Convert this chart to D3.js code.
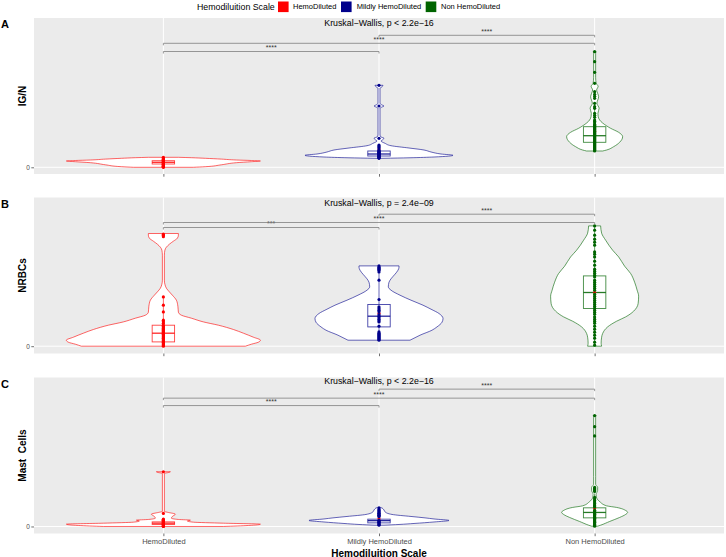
<!DOCTYPE html>
<html>
<head>
<meta charset="utf-8">
<script src="https://cdn.jsdelivr.net/npm/d3@7"></script>
<style>
  body { margin: 0; background: #fff; }
  text { font-family: "Liberation Sans", Arial, sans-serif; }
</style>
</head>
<body>
<div id="chart"></div>
<script>
// categories and colours
const groups = ["HemoDiluted", "Mildly HemoDiluted", "Non HemoDiluted"];
const groupColors = ["#FF0000", "#00008B", "#006400"];

const panelLetters = ["A", "B", "C"];
const yTitles = ["IG/N", "NRBCs", "Mast  Cells"];
const kruskalLabels = ["Kruskal\u2212Wallis, p < 2.2e\u221216", "Kruskal\u2212Wallis, p = 2.4e\u221209", "Kruskal\u2212Wallis, p < 2.2e\u221216"];
const kruskalY = [14.33, 14.27, 14.4];
const yDomains = [[-0.67, 14.93], [-0.73, 14.87], [-0.7, 14.86]];

// pairwise comparisons: H-M, H-N, M-N
const pairs = [[0, 1], [0, 2], [1, 2]];
const sigLabels = [["****", "****", "****"], ["***", "****", "****"], ["****", "****", "****"]];
const bracketY = [[11.58, 12.4, 13.2], [11.87, 12.37, 13.2], [12.06, 12.8, 13.7]];

// violin outlines: [value, half width]
const violinA = [
  [[0, 30], [0.06, 42], [0.25, 58], [0.46, 73], [0.56, 88], [0.63, 97], [0.68, 88], [0.73, 73], [0.82, 58], [0.9, 42], [0.96, 28], [1.0, 15]],
  [[0.9, 5], [0.95, 30], [1.03, 55], [1.2, 74], [1.33, 62], [1.53, 52], [1.73, 45], [1.93, 30], [2.16, 12], [2.4, 6], [2.63, 2], [2.78, 4], [2.9, 5], [3.03, 2], [3.23, 1], [5.9, 1], [6.03, 3], [6.13, 5], [6.23, 3], [6.4, 1], [7.9, 1], [8.05, 3], [8.2, 4]],
  [[1.63, 8], [1.73, 12], [2.06, 19], [2.5, 25], [3.06, 28], [3.5, 24], [3.9, 16], [4.16, 11.7], [4.73, 5], [5.1, 3.5], [5.4, 3.3], [5.9, 4.5], [6.4, 2.3], [7.06, 4], [7.4, 3], [7.73, 2], [8.1, 3.5], [8.4, 1.5], [9, 1], [11.4, 1], [11.56, 1.5]]
];
const violinB = [
  [[0, 82], [0.2, 88], [0.4, 95], [0.6, 97], [0.9, 90], [1.3, 80], [1.67, 70], [2.1, 55], [2.43, 40], [2.8, 28], [3.1, 18], [3.4, 15], [4.0, 14.5], [4.6, 13], [5.1, 9], [5.43, 6], [5.8, 3], [6.2, 1.5], [6.6, 1], [9.1, 1], [9.6, 1.5], [9.9, 3], [10.2, 6], [10.5, 10], [10.8, 14], [11.1, 15], [11.27, 15]],
  [[0.6, 31], [0.9, 37], [1.1, 41], [1.6, 53], [1.93, 58], [2.4, 63], [2.77, 64], [3.27, 60], [3.7, 52], [4.1, 44], [4.6, 32], [5.1, 21], [5.6, 12], [5.93, 9.3], [6.4, 10], [6.8, 12.5], [7.2, 16], [7.6, 19], [7.9, 20], [8.03, 20]],
  [[0, 7], [0.3, 6.5], [0.9, 7], [1.27, 8], [1.93, 13], [2.5, 22], [2.93, 31], [3.5, 39], [4.27, 43.5], [5.0, 44], [5.6, 42.5], [6.4, 40], [7.27, 36], [8.0, 30], [8.93, 24], [9.6, 18], [10.6, 11], [11.3, 7], [12.03, 6]]
];
const violinC = [
  [[0, 60], [0.1, 85], [0.23, 97], [0.33, 60], [0.43, 30], [0.55, 24], [0.63, 27], [0.7, 15], [0.83, 8], [1.0, 9], [1.23, 12], [1.4, 5], [1.5, 1], [5.3, 1], [5.38, 5], [5.46, 7]],
  [[0.13, 5], [0.2, 20], [0.3, 35], [0.45, 55], [0.6, 70], [0.75, 55], [0.86, 46], [1.0, 32], [1.2, 13], [1.46, 6], [1.65, 5], [1.86, 3]],
  [[0.03, 3], [0.13, 6], [0.5, 15], [0.9, 25], [1.2, 31], [1.4, 33], [1.6, 31], [1.9, 22], [2.06, 12], [2.46, 5.3], [2.86, 2], [3.2, 1.5], [3.6, 3], [3.9, 3], [4.2, 1], [5, 1], [10.9, 1], [11.06, 1.5]]
];

// box stats: [lower whisker, q1, median, q3, upper whisker]
const boxA = [[0, 0.33, 0.5, 0.66, 1.0], [0.9, 1.13, 1.33, 1.63, 2.22], [1.63, 2.5, 3.16, 4.06, 6.4]];
const boxB = [[0, 0.43, 1.3, 2.1, 4.93], [0.6, 1.93, 3.0, 4.17, 8.03], [0, 3.77, 5.37, 7.03, 12.03]];
const boxC = [[0, 0.2, 0.33, 0.46, 0.73], [0.13, 0.36, 0.58, 0.73, 1.25], [0.03, 0.86, 1.4, 1.86, 3.3]];

// group means (red dots)
const meanA = [0.5, 1.83, 3.6];
const meanB = [1.9, 3.3, 5.4];
const meanC = [0.4, 0.8, 1.8];

// observations
const pointsA = [
  [0.0, 0.03, 0.07, 0.1, 0.14, 0.18, 0.22, 0.26, 0.3, 0.34, 0.38, 0.42, 0.46, 0.5, 0.54, 0.58, 0.62, 0.66, 0.7, 0.75, 0.8, 0.86, 0.93, 1.0],
  [0.9, 0.95, 1.0, 1.05, 1.1, 1.15, 1.2, 1.25, 1.3, 1.35, 1.4, 1.45, 1.5, 1.55, 1.6, 1.68, 1.74, 1.93, 2.02, 2.12, 2.22, 2.9, 6.13, 8.2],
  [1.63, 1.7, 1.8, 1.9, 2.0, 2.1, 2.2, 2.3, 2.4, 2.5, 2.6, 2.7, 2.8, 2.9, 3.0, 3.1, 3.2, 3.3, 3.4, 3.5, 3.6, 3.7, 3.8, 3.9, 4.0, 4.1, 4.2, 4.3, 4.45, 4.6, 4.73, 5.0, 5.2, 5.4, 5.9, 6.06, 6.4, 6.9, 7.1, 7.3, 7.56, 8.4, 9.5, 10.56, 11.56]
];
const pointsB = [
  [0, 0.08, 0.16, 0.24, 0.32, 0.4, 0.48, 0.56, 0.64, 0.72, 0.8, 0.88, 0.96, 1.04, 1.12, 1.2, 1.3, 1.4, 1.5, 1.6, 1.7, 1.8, 2.0, 2.1, 2.3, 2.45, 2.6, 3.43, 4.1, 4.93, 10.95, 11.1, 11.2],
  [0.6, 0.7, 0.8, 0.9, 1.0, 1.1, 1.2, 1.3, 1.43, 2.0, 2.43, 2.55, 2.7, 2.85, 3.0, 3.15, 3.45, 3.6, 3.75, 3.93, 4.67, 6.6, 7.43, 7.6, 7.7, 7.8, 7.9, 8.03],
  [0.1, 0.4, 0.8, 1.1, 1.4, 1.7, 2.0, 2.3, 2.5, 2.7, 2.93, 3.2, 3.4, 3.6, 3.8, 4.0, 4.2, 4.4, 4.6, 4.8, 5.0, 5.2, 5.6, 5.8, 6.0, 6.2, 6.4, 6.6, 6.93, 7.1, 7.3, 7.5, 7.7, 8.1, 8.5, 8.93, 9.2, 9.43, 10.1, 10.4, 10.7, 11.1, 11.6, 12.03]
];
const pointsC = [
  [0, 0.03, 0.06, 0.1, 0.14, 0.18, 0.22, 0.26, 0.3, 0.35, 0.4, 0.45, 0.5, 0.55, 0.6, 0.63, 0.68, 0.73, 1.3, 5.46],
  [0.13, 0.2, 0.27, 0.34, 0.41, 0.48, 0.55, 0.62, 0.98, 1.04, 1.11, 1.18, 1.25, 1.32, 1.4, 1.5, 1.6, 1.7, 1.86],
  [0.03, 0.1, 0.18, 0.26, 0.34, 0.42, 0.5, 0.58, 0.66, 0.74, 0.82, 0.9, 0.98, 1.06, 1.14, 1.22, 1.3, 1.38, 1.46, 1.54, 1.62, 1.95, 2.05, 2.15, 2.3, 2.45, 2.6, 2.75, 2.9, 3.5, 3.6, 3.7, 3.8, 3.9, 9.03, 9.96, 11.06]
];

const panels = [
  { violins: violinA, boxes: boxA, means: meanA, points: pointsA },
  { violins: violinB, boxes: boxB, means: meanB, points: pointsB },
  { violins: violinC, boxes: boxC, means: meanC, points: pointsC }
];

const width = 726, height = 557;
const panelLeft = 34, panelRight = 724;
const panelTop = [18, 197.5, 377.5];
const panelH = 156;

const svg = d3.select('#chart').append('svg')
  .attr('width', width).attr('height', height);

const x = d3.scalePoint().domain(groups).range([panelLeft, panelRight]).padding(0.6);
const w = d3.scaleLinear().domain([0, 97]).range([0, 0.45 * x.step()]);
const boxHalf = 0.052 * x.step();

panels.forEach((p, i) => {
  const top = panelTop[i];
  const y = d3.scaleLinear().domain(yDomains[i]).range([top + panelH, top]);
  const g = svg.append('g');

  g.append('rect')
    .attr('x', panelLeft).attr('y', top)
    .attr('width', panelRight - panelLeft).attr('height', panelH)
    .attr('fill', '#EBEBEB');

  // grid
  g.append('line')
    .attr('x1', panelLeft).attr('x2', panelRight)
    .attr('y1', y(0)).attr('y2', y(0))
    .attr('stroke', '#fff').attr('stroke-width', 1);
  g.selectAll('.vgrid').data(groups).enter().append('line')
    .attr('x1', d => x(d)).attr('x2', d => x(d))
    .attr('y1', top).attr('y2', top + panelH)
    .attr('stroke', '#fff').attr('stroke-width', 1);

  // axes
  const yAxis = g.append('g')
    .attr('transform', `translate(${panelLeft},0)`)
    .call(d3.axisLeft(y).tickValues([0]).tickSize(2.7).tickPadding(1.5));
  const xAxis = g.append('g')
    .attr('transform', `translate(0,${top + panelH})`)
    .call(d3.axisBottom(x).tickSize(2.7).tickPadding(2).tickFormat(i === 2 ? null : () => ''));
  [yAxis, xAxis].forEach(a => {
    a.select('.domain').remove();
    a.selectAll('.tick line').attr('stroke', '#333').attr('stroke-width', 0.7);
    a.selectAll('.tick text').attr('fill', '#4D4D4D')
      .style('font-family', '"Liberation Sans", Arial, sans-serif');
  });
  yAxis.selectAll('.tick text').style('font-size', '6.5px');
  xAxis.selectAll('.tick text').style('font-size', '7.5px');

  // violins
  const area = d3.area()
    .curve(d3.curveMonotoneY)
    .y(d => y(d[0]));
  p.violins.forEach((prof, k) => {
    const cx = x(groups[k]);
    g.append('path')
      .attr('d', area.x0(d => cx - w(d[1])).x1(d => cx + w(d[1]))(prof))
      .attr('fill', '#fff')
      .attr('stroke', groupColors[k])
      .attr('stroke-opacity', 0.75)
      .attr('stroke-width', 0.8);
  });

  // boxes
  p.boxes.forEach((b, k) => {
    const cx = x(groups[k]);
    const c = groupColors[k];
    g.append('line')
      .attr('x1', cx).attr('x2', cx).attr('y1', y(b[0])).attr('y2', y(b[4]))
      .attr('stroke', c).attr('stroke-opacity', 0.75).attr('stroke-width', 0.8);
    g.append('rect')
      .attr('x', cx - boxHalf).attr('width', 2 * boxHalf)
      .attr('y', y(b[3])).attr('height', y(b[1]) - y(b[3]))
      .attr('fill', '#fff')
      .attr('stroke', c).attr('stroke-opacity', 0.75).attr('stroke-width', 0.9);
    g.append('line')
      .attr('x1', cx - boxHalf).attr('x2', cx + boxHalf)
      .attr('y1', y(b[2])).attr('y2', y(b[2]))
      .attr('stroke', c).attr('stroke-opacity', 0.85).attr('stroke-width', 1.3);
  });

  // means
  g.selectAll('.mean').data(p.means).enter().append('circle')
    .attr('cx', (d, k) => x(groups[k]))
    .attr('cy', d => y(d))
    .attr('r', 1.5)
    .attr('fill', '#FF0000');

  // jittered points (width 0)
  p.points.forEach((vals, k) => {
    g.selectAll(null).data(vals).enter().append('circle')
      .attr('cx', x(groups[k]))
      .attr('cy', d => y(d))
      .attr('r', 1.6)
      .attr('fill', groupColors[k]);
  });

  // comparison brackets
  pairs.forEach((pr, k) => {
    const x1 = x(groups[pr[0]]), x2 = x(groups[pr[1]]);
    const yy = y(bracketY[i][k]);
    g.append('path')
      .attr('d', `M${x1},${yy + 2}L${x1},${yy}L${x2},${yy}L${x2},${yy + 2}`)
      .attr('fill', 'none').attr('stroke', '#7F7F7F').attr('stroke-width', 0.8);
    g.append('text')
      .attr('x', (x1 + x2) / 2).attr('y', yy - 1.5)
      .attr('text-anchor', 'middle')
      .style('font-size', '7px').attr('fill', '#333')
      .text(sigLabels[i][k]);
  });

  g.append('text')
    .attr('x', x(groups[1])).attr('y', y(kruskalY[i]))
    .attr('text-anchor', 'middle').attr('dominant-baseline', 'middle')
    .style('font-size', '8.8px').attr('fill', '#000')
    .text(kruskalLabels[i]);

  // titles
  g.append('text')
    .attr('transform', `translate(25.5,${top + panelH / 2}) rotate(-90)`)
    .attr('text-anchor', 'middle')
    .style('font-size', '10px').style('font-weight', 'bold').style('white-space', 'pre')
    .text(yTitles[i]);
  g.append('text')
    .attr('x', 1).attr('y', top + 10)
    .style('font-size', '11px').style('font-weight', 'bold')
    .text(panelLetters[i]);
});

svg.append('text')
  .attr('x', x(groups[1])).attr('y', 556.5)
  .attr('text-anchor', 'middle')
  .style('font-size', '10px').style('font-weight', 'bold')
  .text('Hemodiluition Scale');

// legend
const legend = svg.append('g');
legend.append('text')
  .attr('x', 197).attr('y', 9.5)
  .style('font-size', '8.8px')
  .text('Hemodiluition Scale');
const keyX = [278, 341, 425.7];
const labelX = [293, 356.7, 441];
groups.forEach((gname, k) => {
  legend.append('rect')
    .attr('x', keyX[k]).attr('y', 1.5)
    .attr('width', 10.6).attr('height', 10.6)
    .attr('fill', groupColors[k]);
  legend.append('text')
    .attr('x', labelX[k]).attr('y', 9.3)
    .style('font-size', '7.5px')
    .text(gname);
});
</script>
</body>
</html>
